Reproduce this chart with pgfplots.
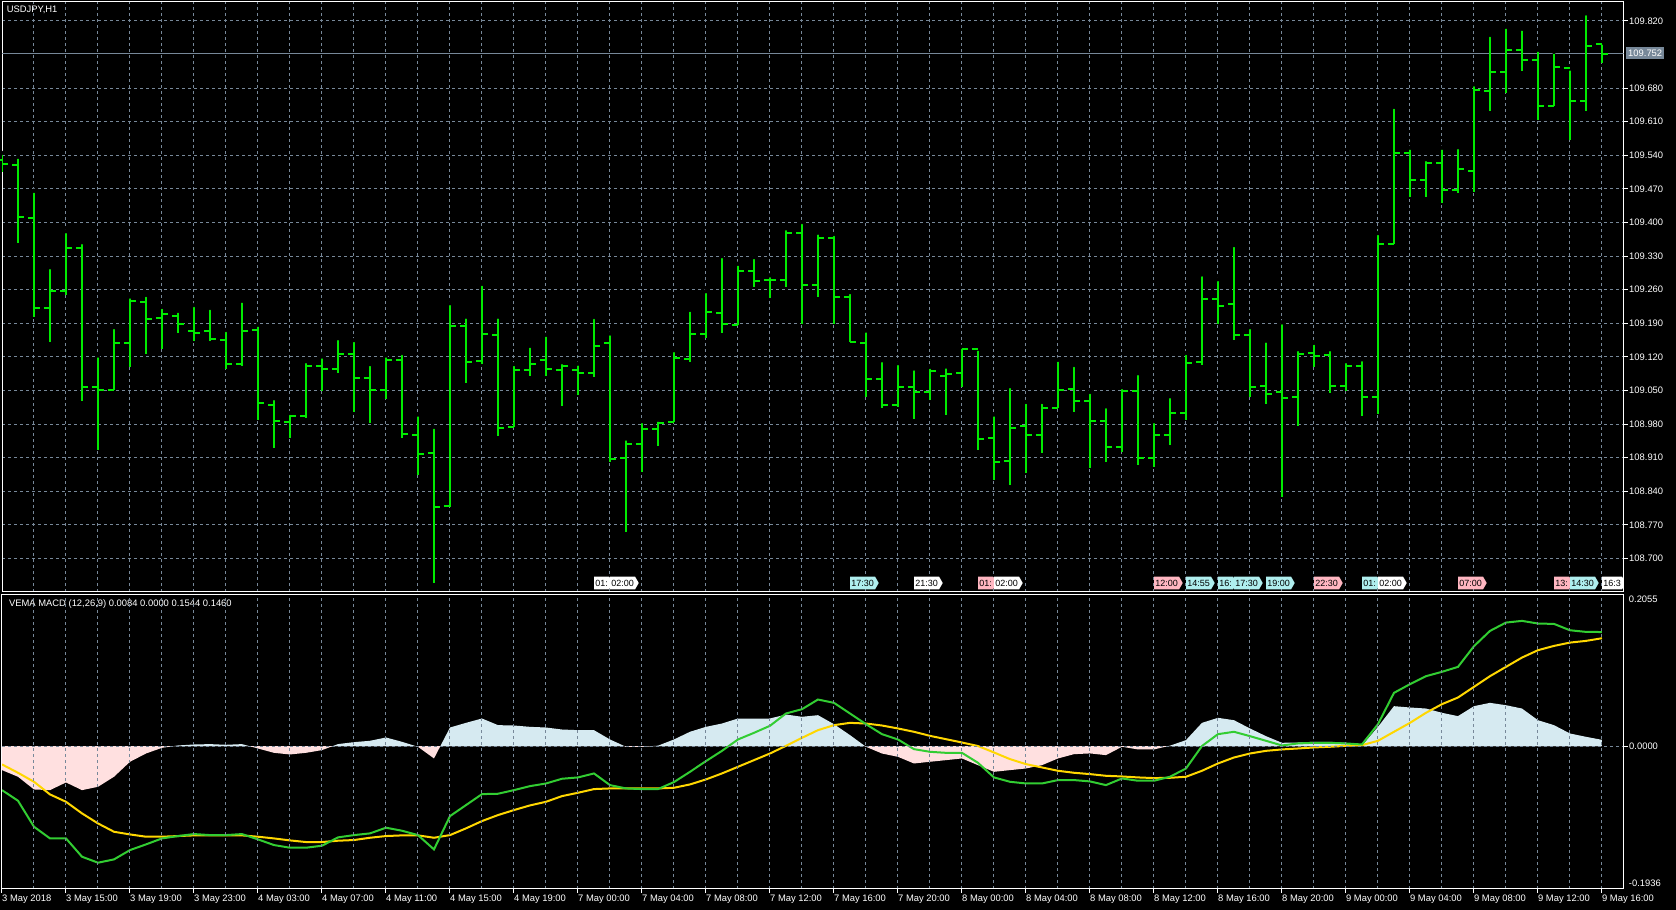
\documentclass[border=0pt]{standalone}
\usepackage{pgfplots}
\pgfplotsset{compat=1.18}
\usepackage{pgfplotstable}
\usetikzlibrary{shapes.symbols}
\usepackage{fontspec}
\setmainfont{Liberation Sans}

\definecolor{barcol}{RGB}{0,235,0}
\definecolor{macdcol}{RGB}{50,205,50}
\definecolor{sigcol}{RGB}{255,215,0}
\definecolor{histblue}{RGB}{214,234,241}
\definecolor{histpink}{RGB}{255,224,224}
\definecolor{gridcol}{RGB}{119,136,153}
\definecolor{evcyan}{RGB}{175,238,238}
\definecolor{evpink}{RGB}{255,182,193}

\pgfdeclareplotmark{otick}{\pgfpathmoveto{\pgfqpoint{-6pt}{0pt}}\pgfpathlineto{\pgfqpoint{0pt}{0pt}}\pgfusepathqstroke}
\pgfdeclareplotmark{ctick}{\pgfpathmoveto{\pgfqpoint{0pt}{0pt}}\pgfpathlineto{\pgfqpoint{6pt}{0pt}}\pgfusepathqstroke}

\pgfplotstableread{
n o h l c
0 109.530 109.545 109.505 109.523
1 109.519 109.537 109.358 109.412
2 109.409 109.466 109.204 109.222
3 109.222 109.307 109.152 109.258
4 109.257 109.382 109.249 109.346
5 109.346 109.359 109.027 109.058
6 109.058 109.123 108.926 109.050
7 109.052 109.182 109.050 109.148
8 109.148 109.246 109.099 109.237
9 109.235 109.249 109.127 109.199
10 109.201 109.224 109.136 109.210
11 109.206 109.216 109.170 109.189
12 109.173 109.228 109.153 109.170
13 109.173 109.222 109.154 109.158
14 109.156 109.176 109.095 109.106
15 109.106 109.237 109.100 109.173
16 109.175 109.187 108.989 109.023
17 109.020 109.034 108.931 108.987
18 108.985 109.003 108.950 108.997
19 108.997 109.111 108.993 109.102
20 109.102 109.121 109.048 109.095
21 109.095 109.159 109.087 109.127
22 109.125 109.155 109.005 109.077
23 109.075 109.105 108.983 109.050
24 109.050 109.123 109.033 109.114
25 109.114 109.128 108.950 108.960
26 108.958 109.000 108.873 108.918
27 108.920 108.974 108.648 108.808
28 108.810 109.232 108.808 109.185
29 109.185 109.204 109.065 109.109
30 109.111 109.272 109.105 109.168
31 109.166 109.204 108.956 108.972
32 108.974 109.105 108.974 109.093
33 109.093 109.143 109.081 109.106
34 109.114 109.166 109.081 109.095
35 109.093 109.109 109.018 109.102
36 109.093 109.106 109.040 109.087
37 109.087 109.203 109.078 109.142
38 109.148 109.169 108.900 108.908
39 108.910 108.950 108.754 108.939
40 108.939 108.986 108.880 108.970
41 108.970 108.989 108.935 108.983
42 108.985 109.134 108.985 109.118
43 109.116 109.218 109.110 109.168
44 109.168 109.257 109.160 109.214
45 109.212 109.330 109.170 109.189
46 109.187 109.314 109.187 109.298
47 109.298 109.328 109.266 109.278
48 109.280 109.290 109.242 109.280
49 109.280 109.388 109.265 109.379
50 109.379 109.401 109.188 109.270
51 109.270 109.379 109.244 109.368
52 109.367 109.376 109.188 109.245
53 109.245 109.255 109.150 109.150
54 109.148 109.175 109.036 109.073
55 109.073 109.113 109.013 109.020
56 109.020 109.107 109.015 109.058
57 109.058 109.096 108.991 109.047
58 109.047 109.099 109.030 109.091
59 109.081 109.100 108.998 109.084
60 109.086 109.141 109.058 109.137
61 109.137 109.137 108.926 108.948
62 108.950 109.000 108.863 108.900
63 108.902 109.059 108.853 108.972
64 108.975 109.026 108.877 108.958
65 108.958 109.026 108.919 109.014
66 109.014 109.114 109.014 109.052
67 109.054 109.103 109.005 109.029
68 109.029 109.047 108.888 108.986
69 108.986 109.017 108.900 108.932
70 108.932 109.057 108.922 109.048
71 109.048 109.086 108.894 108.909
72 108.909 108.986 108.891 108.958
73 108.958 109.038 108.937 109.004
74 109.004 109.128 108.988 109.108
75 109.110 109.292 109.103 109.241
76 109.240 109.282 109.188 109.227
77 109.231 109.353 109.155 109.166
78 109.166 109.182 109.037 109.057
79 109.060 109.154 109.021 109.042
80 109.046 109.192 108.829 109.034
81 109.036 109.136 108.975 109.127
82 109.129 109.149 109.098 109.122
83 109.124 109.136 109.045 109.060
84 109.060 109.111 109.048 109.101
85 109.101 109.115 108.997 109.037
86 109.036 109.378 109.001 109.356
87 109.355 109.641 109.355 109.545
88 109.545 109.556 109.454 109.488
89 109.488 109.532 109.454 109.525
90 109.525 109.556 109.441 109.468
91 109.468 109.557 109.461 109.511
92 109.508 109.688 109.463 109.676
93 109.674 109.791 109.632 109.713
94 109.713 109.808 109.669 109.760
95 109.760 109.804 109.716 109.739
96 109.739 109.760 109.614 109.642
97 109.642 109.756 109.642 109.724
98 109.721 109.721 109.571 109.653
99 109.653 109.836 109.632 109.767
100 109.772 109.775 109.733 109.752
}\bars

\pgfplotstableread{
n m s hi
0 -0.0597 -0.0249 -0.0326
1 -0.0741 -0.0362 -0.0416
2 -0.1093 -0.0484 -0.0588
3 -0.1251 -0.0655 -0.0597
4 -0.1251 -0.0755 -0.0493
5 -0.1499 -0.0912 -0.0597
6 -0.1580 -0.1048 -0.0552
7 -0.1535 -0.1161 -0.0416
8 -0.1409 -0.1197 -0.0213
9 -0.1332 -0.1228 -0.0101
10 -0.1251 -0.1228 -0.0024
11 -0.1219 -0.1219 0.0008
12 -0.1192 -0.1210 0.0021
13 -0.1206 -0.1210 0.0026
14 -0.1206 -0.1210 0.0017
15 -0.1192 -0.1210 0.0026
16 -0.1264 -0.1228 -0.0033
17 -0.1341 -0.1251 -0.0092
18 -0.1377 -0.1278 -0.0114
19 -0.1377 -0.1300 -0.0092
20 -0.1350 -0.1300 -0.0055
21 -0.1237 -0.1282 0.0026
22 -0.1206 -0.1273 0.0053
23 -0.1183 -0.1242 0.0071
24 -0.1106 -0.1219 0.0116
25 -0.1147 -0.1210 0.0057
26 -0.1206 -0.1210 -0.0010
27 -0.1400 -0.1242 -0.0168
28 -0.0949 -0.1206 0.0251
29 -0.0800 -0.1115 0.0314
30 -0.0651 -0.1016 0.0373
31 -0.0646 -0.0935 0.0283
32 -0.0597 -0.0867 0.0278
33 -0.0543 -0.0804 0.0260
34 -0.0507 -0.0755 0.0251
35 -0.0443 -0.0678 0.0224
36 -0.0425 -0.0633 0.0215
37 -0.0371 -0.0583 0.0215
38 -0.0529 -0.0574 0.0089
39 -0.0574 -0.0574 -0.0010
40 -0.0583 -0.0574 -0.0010
41 -0.0583 -0.0574 0.0005
42 -0.0488 -0.0565 0.0089
43 -0.0349 -0.0520 0.0193
44 -0.0204 -0.0452 0.0260
45 -0.0065 -0.0371 0.0305
46 0.0089 -0.0281 0.0373
47 0.0179 -0.0191 0.0373
48 0.0274 -0.0101 0.0373
49 0.0441 0.0003 0.0427
50 0.0499 0.0111 0.0396
51 0.0630 0.0215 0.0418
52 0.0585 0.0283 0.0296
53 0.0441 0.0314 0.0148
54 0.0296 0.0305 -0.0010
55 0.0161 0.0278 -0.0101
56 0.0089 0.0238 -0.0146
57 -0.0042 0.0193 -0.0236
58 -0.0078 0.0138 -0.0213
59 -0.0092 0.0093 -0.0191
60 -0.0092 0.0048 -0.0168
61 -0.0227 0.0000 -0.0259
62 -0.0425 -0.0087 -0.0349
63 -0.0484 -0.0177 -0.0326
64 -0.0507 -0.0245 -0.0304
65 -0.0507 -0.0290 -0.0259
66 -0.0461 -0.0335 -0.0168
67 -0.0461 -0.0362 -0.0110
68 -0.0479 -0.0380 -0.0100
69 -0.0529 -0.0403 -0.0123
70 -0.0439 -0.0412 -0.0010
71 -0.0470 -0.0425 -0.0046
72 -0.0470 -0.0434 -0.0046
73 -0.0416 -0.0430 0.0005
74 -0.0304 -0.0416 0.0080
75 0.0000 -0.0335 0.0314
76 0.0161 -0.0236 0.0382
77 0.0193 -0.0155 0.0350
78 0.0134 -0.0101 0.0238
79 0.0071 -0.0065 0.0134
80 0.0008 -0.0046 0.0044
81 0.0035 -0.0033 0.0048
82 0.0044 -0.0019 0.0057
83 0.0044 -0.0010 0.0057
84 0.0035 0.0003 0.0044
85 0.0021 0.0012 0.0005
86 0.0296 0.0071 0.0260
87 0.0720 0.0193 0.0540
88 0.0838 0.0314 0.0522
89 0.0946 0.0450 0.0508
90 0.1005 0.0567 0.0450
91 0.1072 0.0657 0.0405
92 0.1352 0.0802 0.0540
93 0.1559 0.0946 0.0585
94 0.1672 0.1072 0.0553
95 0.1695 0.1198 0.0508
96 0.1659 0.1298 0.0350
97 0.1654 0.1356 0.0283
98 0.1568 0.1401 0.0170
99 0.1546 0.1424 0.0125
100 0.1544 0.1460 0.0084
}\macd

\tikzset{evt/.style={signal, signal to=east, signal pointer angle=120, anchor=west,
  minimum height=12.6pt, inner xsep=1.2pt, inner ysep=0pt, text=black,
  font=\fontsize{9}{10}\selectfont}}

\begin{document}
\begin{tikzpicture}[font=\fontsize{9.4}{11}\selectfont]
\fill[black] (0pt,0pt) rectangle (1676pt,910pt);

% ---------------- main price panel ----------------
\begin{axis}[
  at={(2pt,318pt)}, anchor=south west,
  scale only axis, width=1621.7pt, height=590pt,
  xmin=0, xmax=101.36,
  ymin=108.630, ymax=109.8596,
  axis line style={white, line width=1pt},
  xtick={2,4,...,100}, xticklabels={}, xtick style={draw=none},
  ytick={108.70,108.77,108.84,108.91,108.98,109.05,109.12,109.19,109.26,109.33,109.40,109.47,109.54,109.61,109.68,109.82},
  yticklabels={108.700,108.770,108.840,108.910,108.980,109.050,109.120,109.190,109.260,109.330,109.400,109.470,109.540,109.610,109.680,109.820},
  ytick pos=right, yticklabel pos=right,
  tick align=outside, major tick length=4pt,
  ytick style={white, line width=1pt},
  yticklabel style={text=white, anchor=west, inner sep=0pt, xshift=1.3pt},
  xmajorgrids, ymajorgrids,
  major grid style={gridcol, dash pattern=on 3pt off 3pt, line width=1pt},
]
\addplot[gridcol, line width=1pt] coordinates {(0,109.7525) (101.36,109.7525)};
\addplot[only marks, mark=none,
  error bars/.cd, y dir=minus, y explicit, error mark=none,
  error bar style={draw=barcol, solid, line width=2pt}]
  table[x=n, y=h, y error expr=\thisrow{h}-\thisrow{l}] {\bars};
\addplot[only marks, mark=otick, mark options={draw=barcol, solid, line width=2pt}] table[x=n, y=o] {\bars};
\addplot[only marks, mark=ctick, mark options={draw=barcol, solid, line width=2pt}] table[x=n, y=c] {\bars};

\node[anchor=west, text=white, inner sep=0pt, xshift=4.7pt, yshift=-7.5pt] at (rel axis cs:0,1) {USDJPY,H1};

\node[evt, fill=white]  at (axis cs:37,108.6488) {01:};
\node[evt, fill=white]  at (axis cs:38,108.6488) {02:00};
\node[evt, fill=evcyan] at (axis cs:53,108.6488) {17:30};
\node[evt, fill=white]  at (axis cs:57,108.6488) {21:30};
\node[evt, fill=evpink] at (axis cs:61,108.6488) {01:};
\node[evt, fill=white]  at (axis cs:62,108.6488) {02:00};
\node[evt, fill=evpink] at (axis cs:72,108.6488) {12:00};
\node[evt, fill=evcyan] at (axis cs:74,108.6488) {14:55};
\node[evt, fill=evcyan] at (axis cs:76,108.6488) {16:};
\node[evt, fill=evcyan] at (axis cs:77,108.6488) {17:30};
\node[evt, fill=evcyan] at (axis cs:79,108.6488) {19:00};
\node[evt, fill=evpink] at (axis cs:82,108.6488) {22:30};
\node[evt, fill=evcyan] at (axis cs:85,108.6488) {01:};
\node[evt, fill=white]  at (axis cs:86,108.6488) {02:00};
\node[evt, fill=evpink] at (axis cs:91,108.6488) {07:00};
\node[evt, fill=evpink] at (axis cs:97,108.6488) {13:};
\node[evt, fill=evcyan] at (axis cs:98,108.6488) {14:30};
\node[evt, fill=white]  at (axis cs:100,108.6488) {16:3};

\coordinate (cp) at (axis cs:101.36,109.7525);
\end{axis}
\node[fill=gridcol, text=white, anchor=west, inner xsep=2pt, inner ysep=0pt, minimum height=12pt, xshift=2.3pt] at (cp) {109.752};

% ---------------- MACD panel ----------------
\begin{axis}[
  at={(2pt,21pt)}, anchor=south west,
  scale only axis, width=1621.7pt, height=294.7pt,
  xmin=0, xmax=101.36,
  ymin=-0.1936, ymax=0.2055,
  axis on top,
  axis line style={white, line width=1pt},
  xtick={0,4,...,100},
  xticklabels={3 May 2018,3 May 15:00,3 May 19:00,3 May 23:00,4 May 03:00,4 May 07:00,4 May 11:00,4 May 15:00,4 May 19:00,7 May 00:00,7 May 04:00,7 May 08:00,7 May 12:00,7 May 16:00,7 May 20:00,8 May 00:00,8 May 04:00,8 May 08:00,8 May 12:00,8 May 16:00,8 May 20:00,9 May 00:00,9 May 04:00,9 May 08:00,9 May 12:00,9 May 16:00},
  minor xtick={2,6,...,98},
  ytick={0}, yticklabels={0.0000},
  xtick pos=left, ytick pos=right, yticklabel pos=right,
  tick align=outside, major tick length=4pt, minor tick length=0pt,
  tick style={white, line width=1pt},
  xticklabel style={text=white, anchor=north west, inner sep=0pt, yshift=-2pt},
  yticklabel style={text=white, anchor=west, inner sep=0pt, xshift=1.3pt},
  xmajorgrids, xminorgrids, ymajorgrids,
  major grid style={gridcol, dash pattern=on 3pt off 3pt, line width=1pt},
  minor grid style={gridcol, dash pattern=on 3pt off 3pt, line width=1pt},
]
\begin{scope}
\clip (axis cs:0,0) rectangle (axis cs:101.36,0.2055);
\addplot[fill=histblue, draw=none] table[x=n, y=hi] {\macd} \closedcycle;
\end{scope}
\begin{scope}
\clip (axis cs:0,-0.1936) rectangle (axis cs:101.36,0);
\addplot[fill=histpink, draw=none] table[x=n, y=hi] {\macd} \closedcycle;
\end{scope}
\addplot[sigcol, line width=2pt] table[x=n, y=s] {\macd};
\addplot[macdcol, line width=2pt] table[x=n, y=m] {\macd};

\node[anchor=west, text=white, inner sep=0pt, xshift=6.9pt, yshift=-10pt] at (rel axis cs:0,1) {VEMA MACD (12,26,9) 0.0084 0.0000 0.1544 0.1460};
\coordinate (mt) at (axis cs:101.36,0.2055);
\coordinate (mb) at (axis cs:101.36,-0.1936);
\end{axis}
\node[anchor=west, text=white, inner sep=0pt, xshift=5pt, yshift=-5.3pt] at (mt) {0.2055};
\node[anchor=west, text=white, inner sep=0pt, xshift=5pt, yshift=5.7pt] at (mb) {-0.1936};

\pgfresetboundingbox
\useasboundingbox (0pt,0pt) rectangle (1676pt,910pt);
\end{tikzpicture}
\end{document}
